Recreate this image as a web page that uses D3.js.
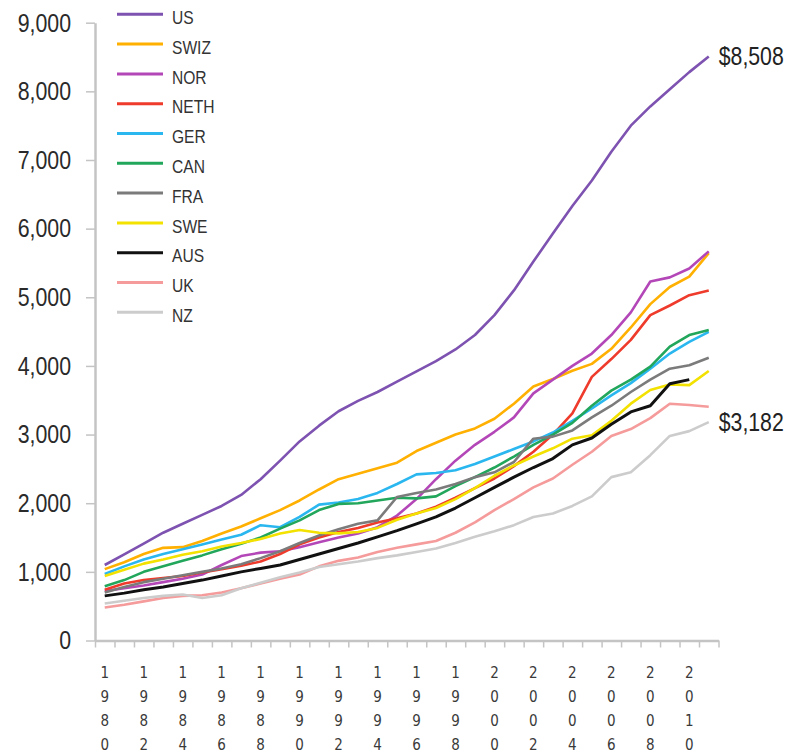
<!DOCTYPE html>
<html>
<head>
<meta charset="utf-8">
<script src="https://cdn.jsdelivr.net/npm/d3@7"></script>
<style>
  html, body { margin: 0; padding: 0; background: #fff; }
  svg { display: block; }
</style>
</head>
<body>
<svg id="chart" width="794" height="755"></svg>
<script>
// ---- data ----
const years = d3.range(1980, 2012);
const countries = ["US", "SWIZ", "NOR", "NETH", "GER", "CAN", "FRA", "SWE", "AUS", "UK", "NZ"];
const colors = ["#7d52b0", "#ffb000", "#b447b8", "#ee3b2b", "#2ab7ef", "#21a65b", "#7b7b7b", "#f3e100", "#111111", "#f59b9b", "#cccccc"];
const yTicks = [0, 1000, 2000, 3000, 4000, 5000, 6000, 7000, 8000, 9000];
const xLabelYears = [1980, 1982, 1984, 1986, 1988, 1990, 1992, 1994, 1996, 1998, 2000, 2002, 2004, 2006, 2008, 2010];

const US   = [1100,1255,1410,1570,1700,1830,1960,2120,2350,2620,2900,3130,3340,3490,3620,3770,3920,4070,4240,4450,4740,5100,5520,5930,6330,6700,7120,7500,7780,8030,8280,8508];
const SWIZ = [1040,1140,1260,1350,1360,1450,1560,1660,1780,1900,2040,2200,2350,2430,2510,2590,2760,2880,3000,3090,3230,3450,3700,3810,3930,4030,4250,4560,4900,5150,5300,5643];
const NOR  = [720,760,800,850,900,960,1100,1230,1280,1300,1360,1430,1500,1560,1650,1820,2060,2350,2620,2850,3040,3250,3600,3800,4000,4180,4450,4780,5230,5290,5420,5669];
const NETH = [740,830,880,910,940,990,1040,1090,1150,1260,1400,1500,1580,1640,1720,1780,1850,1950,2080,2220,2360,2540,2750,3000,3310,3840,4100,4380,4740,4880,5030,5099];
const GER  = [970,1080,1180,1260,1330,1400,1470,1540,1680,1650,1800,1980,2010,2060,2150,2280,2420,2440,2480,2570,2680,2790,2900,3030,3200,3380,3570,3750,3960,4180,4350,4495];
const CAN  = [790,880,1000,1080,1160,1240,1330,1410,1500,1630,1750,1900,1990,2000,2040,2080,2070,2100,2250,2380,2520,2680,2850,3000,3170,3420,3640,3800,3990,4280,4450,4522];
const FRA  = [700,780,850,900,950,1000,1050,1110,1200,1300,1420,1530,1620,1700,1750,2090,2150,2200,2280,2380,2450,2600,2940,2970,3060,3250,3420,3620,3800,3960,4010,4118];
const SWE  = [940,1030,1120,1180,1250,1300,1370,1420,1480,1560,1610,1570,1560,1580,1640,1760,1850,1930,2060,2220,2400,2550,2680,2800,2940,2990,3200,3450,3650,3730,3720,3925];
const AUS  = [650,690,740,780,830,880,940,1000,1050,1100,1180,1260,1340,1420,1510,1600,1700,1800,1930,2080,2230,2380,2520,2650,2850,2950,3150,3330,3420,3740,3800,null];
const UK   = [480,520,570,620,650,660,700,760,830,900,960,1080,1160,1210,1290,1350,1400,1450,1570,1720,1900,2060,2230,2360,2560,2750,2980,3080,3240,3450,3430,3405];
const NZ   = [540,580,620,650,670,620,660,760,840,920,990,1070,1110,1150,1200,1240,1290,1340,1420,1510,1590,1680,1800,1850,1960,2100,2380,2450,2700,2980,3050,3182];
const seriesValues = [US, SWIZ, NOR, NETH, GER, CAN, FRA, SWE, AUS, UK, NZ];
const endLabels = [{country: "US", text: "$8,508"}, {country: "NZ", text: "$3,182"}];

// ---- chart ----
const svg = d3.select("#chart");
const plotLeft = 95, plotRight = 718.5, plotTop = 22.7, plotBottom = 640.5;
const narrowFont = "'Liberation Sans', Arial, sans-serif";

// compress text horizontally to mimic a condensed face
function condense(sel, factor) {
  sel.each(function() {
    const w = this.getComputedTextLength();
    d3.select(this).attr("textLength", w * factor).attr("lengthAdjust", "spacingAndGlyphs");
  });
}

const x = d3.scaleBand().domain(years).range([plotLeft, plotRight]).padding(0);
const xEdges = d3.scaleLinear().domain([1980, 2012]).range([plotLeft, plotRight]);
const y = d3.scaleLinear().domain([0, 9000]).range([plotBottom, plotTop]);
const cx = yr => x(yr) + x.bandwidth() / 2;

const axisColor = "#c4c4c4";

// Y axis
const yAxis = svg.append("g")
  .attr("transform", `translate(${plotLeft},0)`)
  .call(d3.axisLeft(y).tickValues(yTicks).tickFormat(d3.format(",")).tickSize(9).tickPadding(15).tickSizeOuter(0));
yAxis.select(".domain").attr("stroke", axisColor).attr("stroke-width", 2.5);
yAxis.selectAll(".tick line").attr("stroke", axisColor).attr("stroke-width", 1.5);
yAxis.selectAll(".tick text")
  .attr("fill", "#2a2a2a")
  .style("font-family", narrowFont)
  .style("font-size", "26px")
  .call(condense, 0.82);

// X axis: boundary ticks
const xTickAxis = svg.append("g")
  .attr("transform", `translate(0,${plotBottom})`)
  .call(d3.axisBottom(xEdges).tickValues(d3.range(1980, 2013)).tickFormat("").tickSize(7).tickSizeOuter(0));
xTickAxis.select(".domain").attr("stroke", axisColor).attr("stroke-width", 2.5);
xTickAxis.selectAll(".tick line").attr("stroke", axisColor).attr("stroke-width", 1.5);

// X axis: labels (stacked digits)
const xLabAxis = svg.append("g")
  .attr("transform", `translate(0,${plotBottom})`)
  .call(d3.axisBottom(x).tickValues(xLabelYears).tickSize(0).tickPadding(0));
xLabAxis.select(".domain").remove();
xLabAxis.selectAll(".tick text").each(function(d) {
  const t = d3.select(this);
  t.text(null)
    .attr("y", 0)
    .attr("dy", null)
    .attr("fill", "#3a3a3a")
    .style("font-family", "'DejaVu Sans Condensed', 'DejaVu Sans', sans-serif")
    .style("font-size", "15px");
  String(d).split("").forEach((ch, i) => {
    t.append("tspan").attr("x", 0).attr("y", 37 + i * 24.2).text(ch);
  });
});

// Lines
const line = d3.line()
  .defined(d => d.v != null)
  .x(d => cx(d.year))
  .y(d => y(d.v));

countries.forEach((c, i) => {
  const pts = years.map((yr, j) => ({year: yr, v: seriesValues[i][j]}));
  svg.append("path")
    .datum(pts)
    .attr("fill", "none")
    .attr("stroke", colors[i])
    .attr("stroke-width", c === "AUS" ? 3 : 2.6)
    .attr("stroke-linejoin", "round")
    .attr("d", line);
});

// End labels
endLabels.forEach(e => {
  const i = countries.indexOf(e.country);
  const vals = seriesValues[i];
  const last = vals[vals.length - 1];
  svg.append("text")
    .attr("x", cx(years[years.length - 1]) + 10)
    .attr("y", y(last))
    .attr("dy", "0.35em")
    .attr("fill", "#222")
    .style("font-family", narrowFont)
    .style("font-size", "25px")
    .text(e.text)
    .call(condense, 0.85);
});

// Legend
const legend = svg.append("g");
countries.forEach((c, i) => {
  const ly = 14.3 + i * 29.8;
  legend.append("line")
    .attr("x1", 117).attr("x2", 163)
    .attr("y1", ly).attr("y2", ly)
    .attr("stroke", colors[i])
    .attr("stroke-width", 3);
  legend.append("text")
    .attr("x", 172)
    .attr("y", ly + 3)
    .attr("dy", "0.35em")
    .attr("fill", "#333")
    .style("font-family", narrowFont)
    .style("font-size", "19px")
    .text(c)
    .call(condense, 0.82);
});
</script>
</body>
</html>
